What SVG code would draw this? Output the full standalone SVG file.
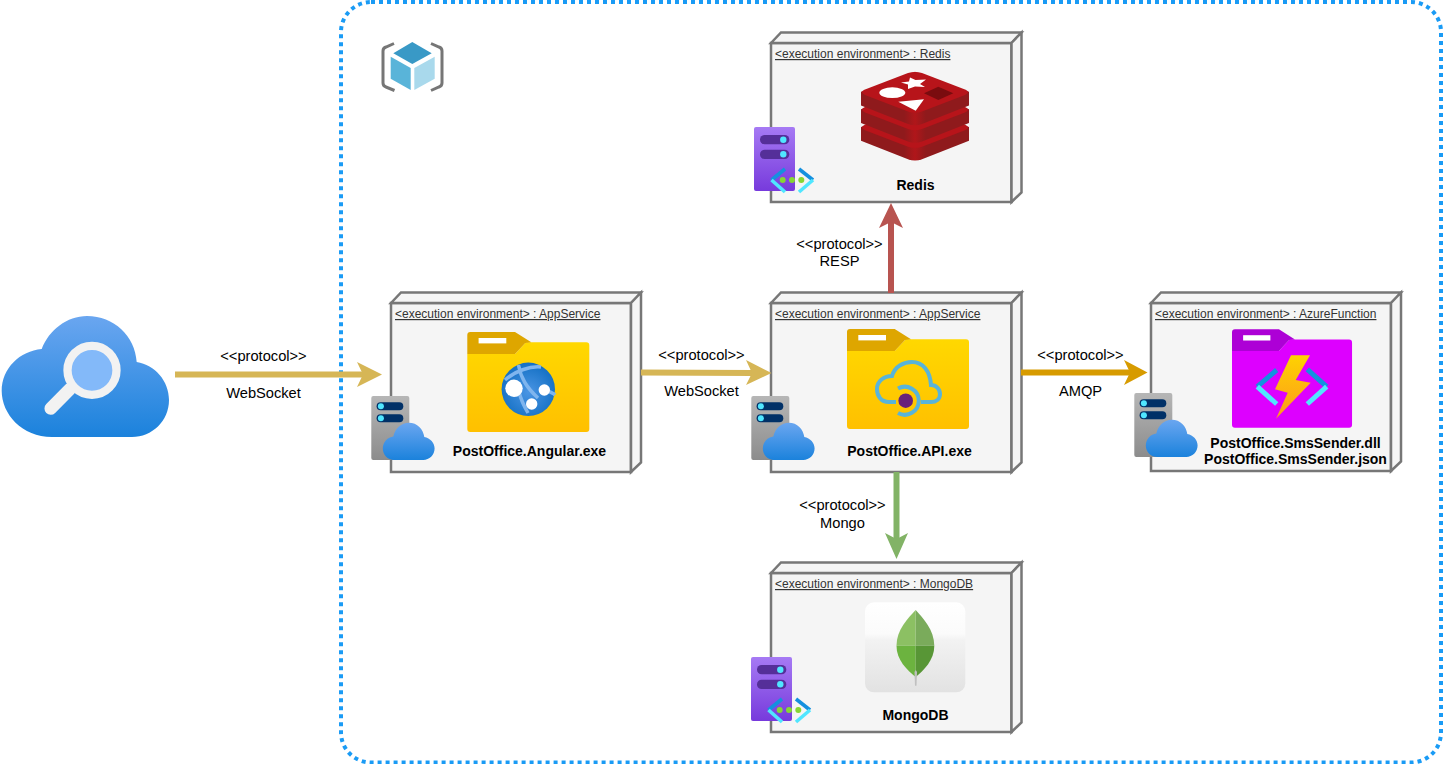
<svg xmlns="http://www.w3.org/2000/svg" xmlns:xlink="http://www.w3.org/1999/xlink" width="1443" height="764" viewBox="0 0 1443 764">
<style>
text{font-family:"Liberation Sans",Arial,sans-serif}
.box{fill:#f5f5f5;stroke:#777;stroke-width:2.5;stroke-linejoin:miter}
.title{font-size:12px;fill:#333;text-decoration:underline}
.name{font-size:14px;font-weight:bold;fill:#000;text-anchor:middle}
.lab{font-size:14.67px;fill:#000;text-anchor:middle}
.conn{fill:none;stroke-width:6}
</style>
<defs>
<linearGradient id="gGray" x1="0" y1="0" x2="0" y2="1"><stop offset="0" stop-color="#b6b6b6"/><stop offset="1" stop-color="#8c8c8c"/></linearGradient>
<linearGradient id="gCloud" x1="0" y1="0" x2="0" y2="1"><stop offset="0" stop-color="#6aa6f0"/><stop offset="1" stop-color="#1b82dc"/></linearGradient>
<linearGradient id="gPurple" x1="0" y1="0" x2="0" y2="1"><stop offset="0" stop-color="#a67af4"/><stop offset="1" stop-color="#773adc"/></linearGradient>
<linearGradient id="gFolder" x1="0" y1="0" x2="0" y2="1"><stop offset="0" stop-color="#ffd800"/><stop offset="1" stop-color="#ffc000"/></linearGradient>
<linearGradient id="gBolt" x1="0" y1="0" x2="0" y2="1"><stop offset="0" stop-color="#fed201"/><stop offset="1" stop-color="#fd9a1c"/></linearGradient>
<linearGradient id="gTile" x1="0" y1="0" x2="0" y2="1"><stop offset="0" stop-color="#ffffff"/><stop offset="0.35" stop-color="#fbfbfb"/><stop offset="0.42" stop-color="#f2f2f2"/><stop offset="1" stop-color="#e2e2e2"/></linearGradient>
<radialGradient id="gGlobe" cx="0.5" cy="0.55" r="0.55"><stop offset="0" stop-color="#4a95e4"/><stop offset="1" stop-color="#1470c4"/></radialGradient>
<linearGradient id="gRedisSide" x1="0" y1="0" x2="1" y2="0"><stop offset="0" stop-color="#8f1a1c"/><stop offset="0.4" stop-color="#8f1a1c"/><stop offset="0.5" stop-color="#b0161a"/><stop offset="0.6" stop-color="#8f1a1c"/><stop offset="1" stop-color="#8f1a1c"/></linearGradient>
<g id="srvGray">
<rect x="0" y="0" width="38" height="64" rx="2" fill="url(#gGray)"/>
<rect x="5.3" y="6.3" width="26.7" height="8" rx="4" fill="#003067"/>
<rect x="5.3" y="18.3" width="26.7" height="8" rx="4" fill="#003067"/>
<circle cx="9.6" cy="10.3" r="3" fill="#50e6ff"/>
<circle cx="9.6" cy="22.3" r="3" fill="#50e6ff"/>
<path d="M23,64C16,64 11.5,58.5 11.5,52.5C11.5,46 16.5,41 22,40.5C24,32 30,26.7 37.5,26.7C46,26.7 52,33 53,41C59,42 63.3,47 63.3,52.5C63.3,59 58,64 52,64Z" fill="url(#gCloud)"/>
</g>
<g id="srvPurple">
<rect x="0" y="0" width="41" height="64" rx="2" fill="url(#gPurple)"/>
<rect x="6" y="8" width="29.3" height="9.3" rx="4.6" fill="#552f99"/>
<rect x="6" y="22.7" width="29.3" height="9.3" rx="4.6" fill="#552f99"/>
<circle cx="29.3" cy="12.7" r="3.2" fill="#50e6ff"/>
<circle cx="29.3" cy="27.3" r="3.2" fill="#50e6ff"/>
<path d="M31,42L17.5,53" fill="none" stroke="#1490df" stroke-width="3.6"/>
<path d="M17.5,53L31,65" fill="none" stroke="#50e6ff" stroke-width="3.6"/>
<path d="M45,42L59,53" fill="none" stroke="#1490df" stroke-width="3.6"/>
<path d="M59,53L45,65" fill="none" stroke="#50e6ff" stroke-width="3.6"/>
<circle cx="28.7" cy="53" r="3" fill="#86d633"/>
<circle cx="38" cy="53" r="3" fill="#86d633"/>
<circle cx="47.3" cy="53" r="3" fill="#86d633"/>
</g>
<g id="redisLayer">
<path d="M861,91.7L915,71.7L969,91.7V105.5L922,124Q915,126.5 908,124L861,105.5Z" fill="url(#gRedisSide)"/>
<path d="M865,89.5L908,73Q915,71 922,73L965,89.5Q971,92 965,95L922,111.5Q915,114 908,111.5L865,95Q859,92 865,89.5Z" fill="#b7141a"/>
</g>
<path id="folderBody" d="M0,22H47.7L58,11Q58.6,10.3 60,10.3H119Q122,10.3 122,13.3V97Q122,100 119,100H3Q0,100 0,97Z"/>
<path id="folderTab" d="M0,3Q0,0 3,0H47.7L64,10.3L58,11L47.7,22H0Z"/>
</defs>

<rect id="boundary" x="341" y="2" width="1100" height="760.5" rx="30" ry="30" fill="none" stroke="#1a9bf5" stroke-width="4" stroke-dasharray="4 4"/>

<g id="appservice-icon">
<polygon points="412.3,42 431.7,53.3 412.3,64 393.3,53.3" fill="#3999c6"/>
<polygon points="390.7,56.7 410.7,68 410.7,90 390.7,78.7" fill="#59b4d9"/>
<polygon points="414.3,68 434.7,56.7 434.7,78.7 414.3,90" fill="#a9d9ec"/>
<path d="M394,43.5L386,47Q383,48 383,51V83Q383,86 386,87L394.5,90.5" fill="none" stroke="#767676" stroke-width="3"/>
<path d="M431,43.5L439,47Q442,48 442,51V83Q442,86 439,87L431,90.5" fill="none" stroke="#767676" stroke-width="3"/>
</g>

<g id="client">
<path d="M52,437C22,437 1.7,414 1.7,391C1.7,368 20,351 41.7,349C49,330 67,316 87,316C114,316 135,336 136.7,362C155,365 169,381 169,400C169,421 152,437 132,437Z" fill="url(#gCloud)"/>
<line x1="70" y1="389" x2="50.7" y2="408.5" stroke="#f2f2f2" stroke-width="12.5" stroke-linecap="round"/>
<circle cx="92" cy="370.3" r="24.5" fill="#83b9f9" stroke="#f2f2f2" stroke-width="8.3"/>
</g>

<g id="node-redis">
<path class="box" d="M771,43H1011.5V202H771Z"/>
<path class="box" d="M771,43L781,32.5H1021.5L1011.5,43Z"/>
<path class="box" d="M1011.5,43L1021.5,32.5V192.5L1011.5,202Z"/>
<text class="title" x="775" y="58">&lt;execution environment&gt; : Redis</text>
<use xlink:href="#redisLayer" y="35.3"/>
<use xlink:href="#redisLayer" y="17.6"/>
<use xlink:href="#redisLayer"/>
<polygon points="910,77.5 915.5,80 926,79.5 920,84 925,87 915,86.5 908,89 908,84.5 901,82.5 909,81.5" fill="#fff"/>
<ellipse cx="892.3" cy="92.7" rx="13" ry="5.4" fill="#fff"/>
<polygon points="898.3,101.7 924,99.3 915.7,110.7" fill="#fff"/>
<polygon points="924,93.3 938.3,86.7 953.3,93.3 938.3,100" fill="#7a0c0f"/>
<text class="name" x="915.5" y="190">Redis</text>
<use xlink:href="#srvPurple" x="754" y="127"/>
</g>

<g id="node-angular">
<path class="box" d="M391,303H631V472H391Z"/>
<path class="box" d="M391,303L401,292.5H641L631,303Z"/>
<path class="box" d="M631,303L641,292.5V462.5L631,472Z"/>
<text class="title" x="395" y="318">&lt;execution environment&gt; : AppService</text>
<g transform="translate(467.3,332)">
<use xlink:href="#folderBody" fill="url(#gFolder)"/><use xlink:href="#folderTab" fill="#dea600"/>
<rect x="11.3" y="6" width="27.7" height="5.4" fill="#fff"/>
</g>
<circle cx="528.3" cy="389.3" r="26.7" fill="url(#gGlobe)"/>
<path d="M518.5,365C521,378 526,387 538,398M505,380C515,371 530,366 541,367M519,392C521,400 524,406 528,413M545,390C550,392 553,393 555,395" fill="none" stroke="#7fb5ee" stroke-width="3.5"/>
<circle cx="514" cy="388.3" r="8.7" fill="#fff"/>
<circle cx="544.3" cy="390" r="5.7" fill="#fff"/>
<circle cx="531.7" cy="404" r="5.7" fill="#fff"/>
<text class="name" x="529.5" y="456">PostOffice.Angular.exe</text>
<use xlink:href="#srvGray" x="371.3" y="396"/>
</g>

<g id="node-api">
<path class="box" d="M771,303H1011.5V472H771Z"/>
<path class="box" d="M771,303L781,292.5H1021.5L1011.5,303Z"/>
<path class="box" d="M1011.5,303L1021.5,292.5V462.5L1011.5,472Z"/>
<text class="title" x="775" y="318">&lt;execution environment&gt; : AppService</text>
<g transform="translate(847,329)">
<use xlink:href="#folderBody" fill="url(#gFolder)"/><use xlink:href="#folderTab" fill="#dea600"/>
<rect x="11.3" y="6" width="27.7" height="5.4" fill="#fff"/>
</g>
<path d="M896,402H889C881,402 877,396 877,389C877,381 884,376 892,376C895,366 904,362 912,362C923,362 930,371 931,385C936,385 940,389 940,394C940,399 936,402 931,402H921" fill="none" stroke="#59b4d9" stroke-width="4"/>
<path d="M898,388.5A14,14 0 1 1 898,413" fill="none" stroke="#59b4d9" stroke-width="4"/>
<circle cx="905.7" cy="400.7" r="7.3" fill="#68217a"/>
<text class="name" x="909.5" y="456">PostOffice.API.exe</text>
<use xlink:href="#srvGray" x="751.3" y="396"/>
</g>

<g id="node-function">
<path class="box" d="M1151,303H1391V471H1151Z"/>
<path class="box" d="M1151,303L1161,292.5H1401L1391,303Z"/>
<path class="box" d="M1391,303L1401,292.5V461.5L1391,471Z"/>
<text class="title" x="1155" y="318">&lt;execution environment&gt; : AzureFunction</text>
<g transform="translate(1232,329.3) scale(0.984,0.984)">
<use xlink:href="#folderBody" fill="#dd00ff"/><use xlink:href="#folderTab" fill="#ad00d6"/>
<rect x="11.3" y="6" width="27.7" height="5.4" fill="#fff"/>
</g>
<path d="M1276.7,370L1257.3,386.7" fill="none" stroke="#1490df" stroke-width="5"/>
<path d="M1257.3,386.7L1276.7,404" fill="none" stroke="#50e6ff" stroke-width="5"/>
<path d="M1307.3,369.3L1326.7,386.7" fill="none" stroke="#1490df" stroke-width="5"/>
<path d="M1326.7,386.7L1307.3,404" fill="none" stroke="#50e6ff" stroke-width="5"/>
<polygon points="1291,355.3 1310,355.3 1295.7,380 1310.7,382.7 1276,418.7 1287.7,392.7 1275,389.3" fill="url(#gBolt)"/>
<text class="name" x="1295.5" y="448">PostOffice.SmsSender.dll</text>
<text class="name" x="1295.5" y="464">PostOffice.SmsSender.json</text>
<use xlink:href="#srvGray" x="1134.3" y="393"/>
</g>

<g id="node-mongodb">
<path class="box" d="M771,573H1011.5V732H771Z"/>
<path class="box" d="M771,573L781,562.5H1021.5L1011.5,573Z"/>
<path class="box" d="M1011.5,573L1021.5,562.5V722.5L1011.5,732Z"/>
<text class="title" x="775" y="588">&lt;execution environment&gt; : MongoDB</text>
<rect x="865" y="602.3" width="100.3" height="90" rx="9" fill="url(#gTile)"/>
<path d="M915.7,610C908,618 896.5,630 896.5,645.7H915.7Z" fill="#8cc063"/>
<path d="M915.7,610C923,618 934.3,630 934.3,645.7H915.7Z" fill="#7aab5b"/>
<path d="M896.5,645.7C896.5,660 907,670 915.7,677V645.7Z" fill="#6cb33f"/>
<path d="M934.3,645.7C934.3,660 924,670 915.7,677V645.7Z" fill="#589636"/>
<path d="M914.5,672L915.7,670L917,672L916.5,685.7H915Z" fill="#c0c0c0"/>
<text class="name" x="915.5" y="720">MongoDB</text>
<use xlink:href="#srvPurple" x="751" y="657"/>
</g>

<g id="connectors">
<path class="conn" stroke="#d6b656" d="M175,374.5H364"/>
<polygon fill="#d6b656" points="382,374.5 357,387 363,374.5 357,362"/>
<path class="conn" stroke="#d6b656" d="M641,372.5L753,373"/>
<polygon fill="#d6b656" points="771.5,373 746,385 752,373 746,360"/>
<path class="conn" stroke="#b85450" d="M891,293V222"/>
<polygon fill="#b85450" points="891,203 903,228 891,222 879,228"/>
<path class="conn" stroke="#d79b00" d="M1021,372.5H1130"/>
<polygon fill="#d79b00" points="1147.5,372.5 1124,385 1130,372.5 1124,360"/>
<path class="conn" stroke="#82b366" d="M896.5,472V540"/>
<polygon fill="#82b366" points="896.5,559 885,533 896.5,539 908,533"/>
</g>

<g id="labels">
<text class="lab" x="263.5" y="361">&lt;&lt;protocol&gt;&gt;</text>
<text class="lab" x="263.5" y="398">WebSocket</text>
<text class="lab" x="701.5" y="360">&lt;&lt;protocol&gt;&gt;</text>
<text class="lab" x="701.5" y="396">WebSocket</text>
<text class="lab" x="839.5" y="249">&lt;&lt;protocol&gt;&gt;</text>
<text class="lab" x="839.5" y="266">RESP</text>
<text class="lab" x="1080.5" y="360">&lt;&lt;protocol&gt;&gt;</text>
<text class="lab" x="1080.5" y="396">AMQP</text>
<text class="lab" x="842.5" y="510">&lt;&lt;protocol&gt;&gt;</text>
<text class="lab" x="842.5" y="528">Mongo</text>
</g>
</svg>
